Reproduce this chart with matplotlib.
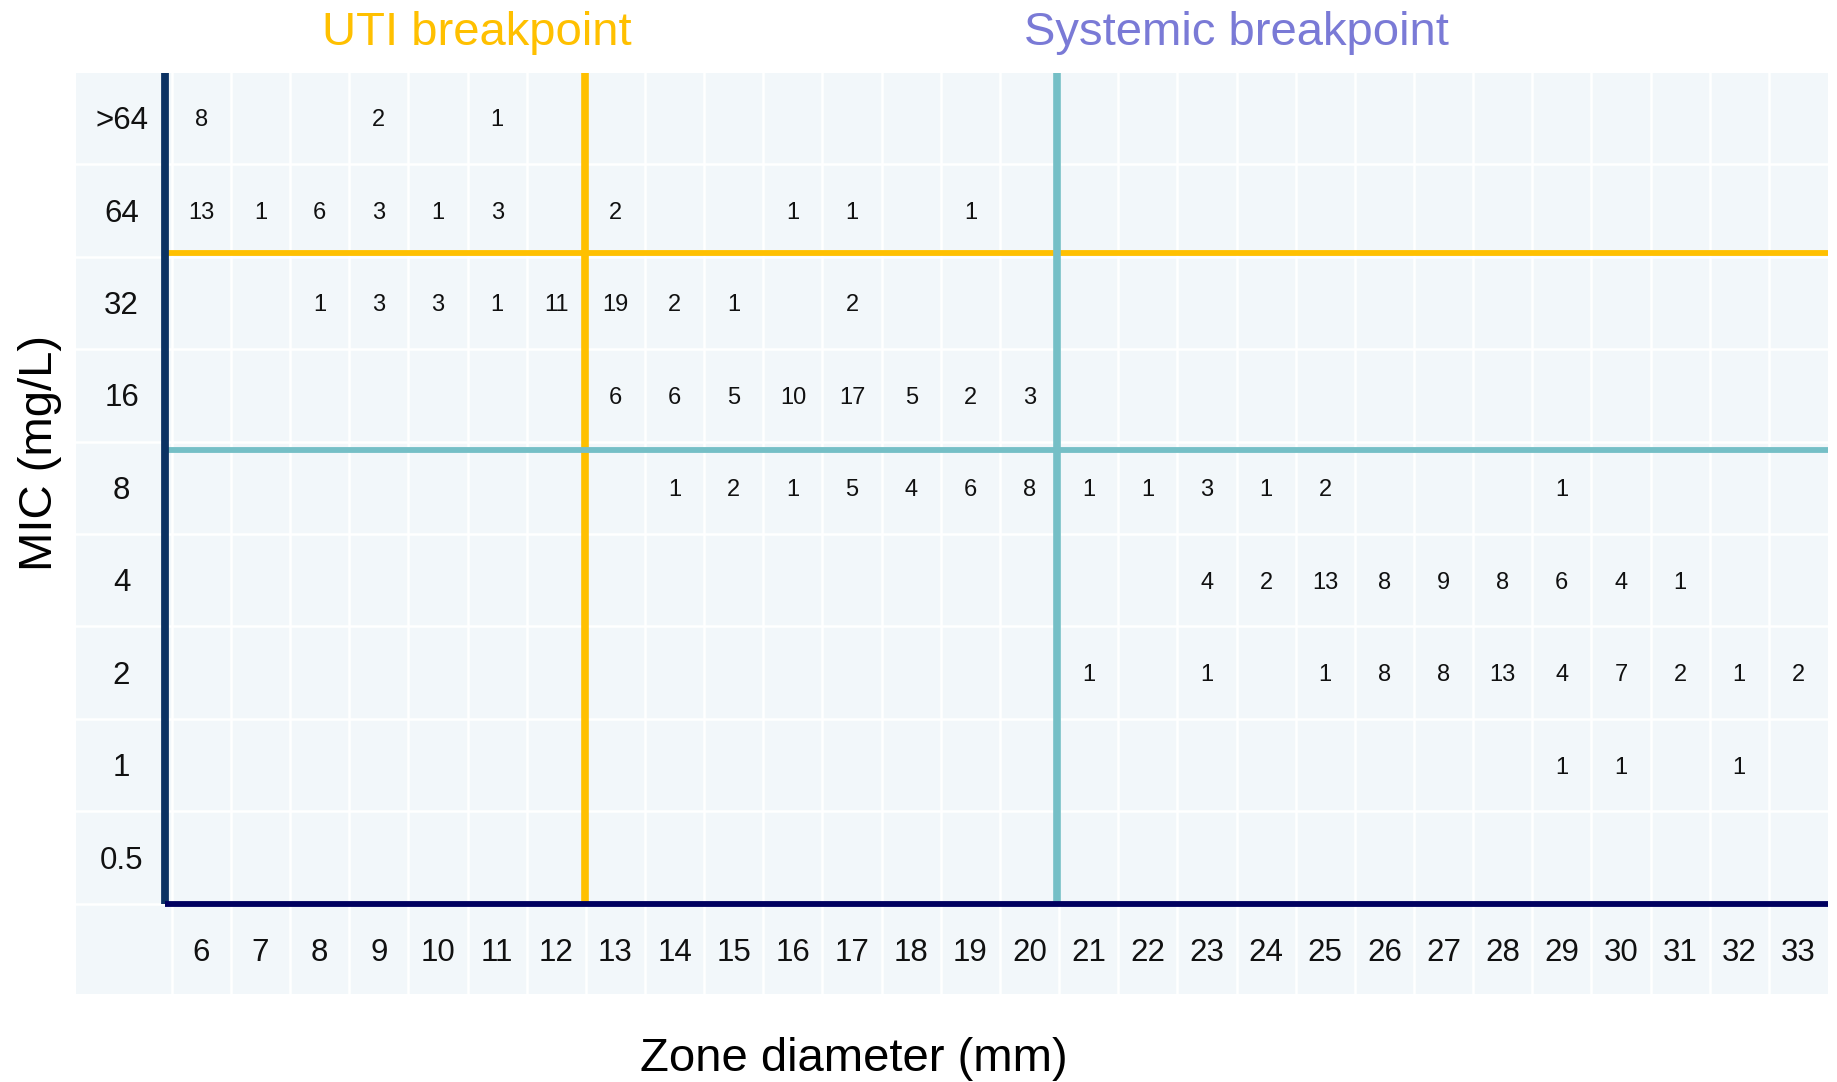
import numpy as np
import matplotlib
matplotlib.use("Agg")
import matplotlib.pyplot as plt

plt.rcParams['font.family'] = ['Liberation Sans', 'DejaVu Sans']

# zone diameters (mm) and MIC rows (bottom to top)
zones = list(range(6, 34))
mic_labels = ["0.5", "1", "2", "4", "8", "16", "32", "64", ">64"]

# counts per MIC row: {zone: count}
row_gt64 = {6: 8, 9: 2, 11: 1}
row_64 = {6: 13, 7: 1, 8: 6, 9: 3, 10: 1, 11: 3, 13: 2, 16: 1, 17: 1, 19: 1}
row_32 = {8: 1, 9: 3, 10: 3, 11: 1, 12: 11, 13: 19, 14: 2, 15: 1, 17: 2}
row_16 = {13: 6, 14: 6, 15: 5, 16: 10, 17: 17, 18: 5, 19: 2, 20: 3}
row_8 = {14: 1, 15: 2, 16: 1, 17: 5, 18: 4, 19: 6, 20: 8, 21: 1, 22: 1, 23: 3,
         24: 1, 25: 2, 29: 1}
row_4 = {23: 4, 24: 2, 25: 13, 26: 8, 27: 9, 28: 8, 29: 6, 30: 4, 31: 1}
row_2 = {21: 1, 23: 1, 25: 1, 26: 8, 27: 8, 28: 13, 29: 4, 30: 7, 31: 2, 32: 1, 33: 2}
row_1 = {29: 1, 30: 1, 32: 1}
row_05 = {}

rows = [row_05, row_1, row_2, row_4, row_8, row_16, row_32, row_64, row_gt64]

# breakpoint lines (zone axis, MIC row axis)
uti_zone, uti_mic = 12.48, 6.536
sys_zone, sys_mic = 20.47, 4.408

W, H = 1837, 1082
fig = plt.figure(figsize=(W / 100, H / 100), dpi=100)
ax_top, ax_bot = 72.6, 993.5
ax = fig.add_axes([76 / W, 1 - ax_bot / H, (1828 - 76) / W, (ax_bot - ax_top) / H])

x0, x1 = 3.88, 33.5
y0, y1 = -1.47, 8.49
ax.set_xlim(x0, x1)
ax.set_ylim(y0, y1)
ax.set_facecolor("#f2f7fa")
for s in ax.spines.values():
    s.set_visible(False)
ax.set_xticks([])
ax.set_yticks([])
px_per_row = (ax_bot - ax_top) / (y1 - y0)


def digit_shift(fs):
    # half the digit height in data units, so digits sit centred on the row
    return 0.716 * fs * 100 / 72 / 2 / px_per_row


# white grid
for xb in np.arange(5.5, 33.5, 1):
    ax.axvline(xb, color="white", lw=1.8, zorder=1)
for yb in np.arange(-0.5, 8.5, 1):
    ax.axhline(yb, color="white", lw=1.8, zorder=1)

# cell counts
fs_cell = 17
for i, row in enumerate(rows):
    for z, n in row.items():
        ax.text(z, i - digit_shift(fs_cell), str(n), ha="center", va="baseline",
                fontsize=fs_cell, color="#111111", zorder=5)

# tick labels inside panel
fs_tick = 22.5
for i, lab in enumerate(mic_labels):
    ax.text(4.65, i - digit_shift(fs_tick), lab, ha="center", va="baseline",
            fontsize=fs_tick, color="#111111")
for z in zones:
    ax.text(z, -1 - digit_shift(fs_tick), str(z), ha="center", va="baseline",
            fontsize=fs_tick, color="#111111")

gold = "#ffc000"
teal = "#75bfc6"
ax.plot([uti_zone, uti_zone], [-0.5, y1], color=gold, lw=5.5, zorder=3, solid_capstyle="butt")
ax.plot([5.39, x1], [uti_mic, uti_mic], color=gold, lw=4.2, zorder=3, solid_capstyle="butt")
ax.plot([sys_zone, sys_zone], [-0.5, y1], color=teal, lw=5.5, zorder=3, solid_capstyle="butt")
ax.plot([5.39, x1], [sys_mic, sys_mic], color=teal, lw=4.2, zorder=3, solid_capstyle="butt")

# axes lines
ax.plot([5.39, 5.39], [-0.5, y1], color="#0b3263", lw=5.6, zorder=4, solid_capstyle="butt")
ax.plot([5.39, x1], [-0.5, -0.5], color="#00005f", lw=4.2, zorder=4, solid_capstyle="butt")

fig.text(477 / W, 1 - 45 / H, "UTI breakpoint", color=gold, fontsize=34,
         ha="center", va="baseline")
fig.text(1236 / W, 1 - 45 / H, "Systemic breakpoint", color="#7a7ad6", fontsize=34,
         ha="center", va="baseline")
fig.text(51.7 / W, 1 - 453 / H, "MIC (mg/L)", rotation=90, fontsize=34,
         ha="center", va="baseline", rotation_mode="anchor")
fig.text(854 / W, 1 - 1071 / H, "Zone diameter (mm)", fontsize=34, ha="center", va="baseline")

fig.savefig("out.png", dpi=100, facecolor="white")
